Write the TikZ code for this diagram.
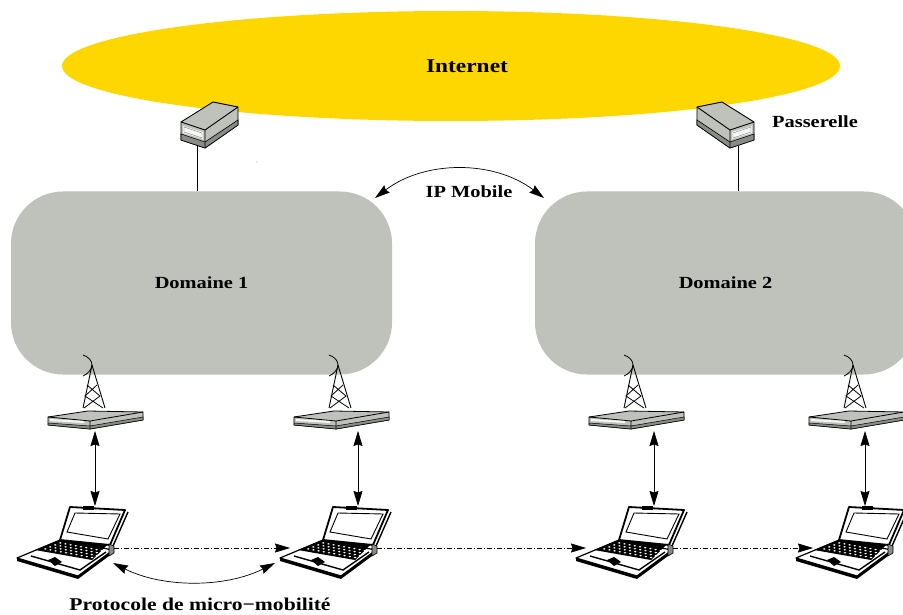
\documentclass[tikz,border=0pt]{standalone}
\usepackage{fontspec}
\setmainfont[FakeStretch=1.2]{Liberation Serif}
\usetikzlibrary{arrows.meta,positioning,shapes.geometric}
\definecolor{netyellow}{HTML}{FFD700}
\definecolor{domgray}{HTML}{BEC2BA}
\definecolor{boxdark}{HTML}{8A8C88}
\tikzset{%
   lbl/.style={
      font=\bfseries\fontsize{17}{19}\selectfont,
      inner sep=1pt
   },
   dombox/.style={
      rectangle,
      rounded corners=52pt,
      fill=domgray,
      minimum width=381pt,
      minimum height=183pt,
      lbl
   },
   netblob/.style={
      ellipse,
      fill=netyellow,
      minimum width=778pt,
      minimum height=110pt,
      lbl,
      font=\bfseries\fontsize{19.5}{21}\selectfont
   },
   onetip/.style={
      -{Stealth[length=15pt,width=9pt,inset=1.5pt]},
      line width=.7pt
   },
   bitip/.style={
      {Stealth[length=15pt,width=9pt,inset=1.5pt]}-{Stealth[length=15pt,width=9pt,inset=1.5pt]},
      line width=.7pt
   },
   radiolink/.style={
      onetip,
      dash pattern=on 5pt off 2pt on 1pt off 2pt
   },
   gateway/.pic={
      \filldraw[fill=domgray,line width=.9pt,line join=round] (-24,-8) -- (8,-28) -- (33,-23) -- (33,-5) -- (0,18) -- (-24,10) -- cycle;
      \filldraw[fill=boxdark,line width=.6pt] (-24,4) -- (0,12) -- (33,-10) -- (33,-5) -- (0,18) -- (-24,10) -- cycle;
      \draw[line width=.9pt] (-24,-8) -- (0,0) -- (33,-23) (0,0) -- (0,18);
      \fill[white!85!domgray] (-22,-4) -- (-2,2) -- (-2,9) -- (-22,3) -- cycle;
      \draw[gray,line width=.4pt] (-21,-3) -- (-3,3) -- (-3,8) -- (-21,2) -- cycle;
      \coordinate (-port) at (-8,16);
   },
   relay/.pic={
      % antenna
      \draw[line width=.8pt] (-7,-66) .. controls (-1,-64) and (2,-60) .. (2,-56) .. controls (2,-52) and (-2,-47) .. (-7,-45);
      \draw[line width=.9pt] (2,-56) -- (-7,-13) (2,-56) -- (15,-13);
      \draw[line width=.8pt] (-3,-36) -- (10,-25) -- (-6,-13) (7,-36) -- (-5,-25) -- (13,-13);
      % box
      \filldraw[fill=domgray,line width=.8pt,line join=round] (-42,-4) -- (-2,-10) -- (53,-9) -- (53,-1) -- (0,8) -- (-42,4) -- cycle;
      \filldraw[fill=boxdark,line width=.5pt] (-42,2) -- (0,5) -- (53,-4) -- (53,-1) -- (0,8) -- (-42,4) -- cycle;
      \draw[line width=.8pt] (-42,-4) -- (0,0) -- (53,-9) (0,0) -- (0,8);
      \fill[white!85!domgray] (-40,-2) -- (-6,0) -- (-6,2) -- (-40,0) -- cycle;
      \coordinate (-out) at (0,10);
   },
   laptop/.pic={
      % base
      \filldraw[fill=white,line width=1.2pt,line join=round] (-78,10) -- (-35,-8) -- (18,2) -- (-17,28) -- cycle;
      \fill (-78,10) -- (-17,28) -- (18,2) -- (18,5) -- (-17,31) -- (-78,13) -- cycle;
      % lid
      \filldraw[fill=white,line width=1.8pt,line join=round] (-35,-8) -- (-25,-41) -- (30,-38) -- (15,-3) -- cycle;
      \filldraw[fill=white,line width=.9pt] (-28,-16) -- (-20,-35) -- (25,-34) -- (13,-9) -- cycle;
      \draw[line width=1.4pt] (33,-36) -- (18,-2);
      \fill (-12,-42) rectangle (-1,-38);
      % keyboard
      \fill (-60,2) -- (-35,-8) -- (12,-3) -- (-3,12) -- cycle;
      \foreach \i in {1,...,10} {
         \foreach \j in {1,...,4} {
            \fill[white] ({-60+\i*5.2+\j*5},{2+\i*.95-\j*2}) ellipse (1.3pt and .8pt);
         }
      }
      % pads
      \fill (-47,12) -- (-40,9) -- (-33,14) -- (-40,18) -- cycle;
      \draw[line width=1.4pt] (-64,8) -- (-15,22) -- (11,4);
      % port
      \filldraw[fill=boxdark,line width=.6pt] (14,-4) -- (19,-2) -- (19,5) -- (14,8) -- cycle;
      \coordinate (-top) at (0,-42);
      \coordinate (-port) at (19,0);
      \coordinate (-in) at (-68,0);
      \coordinate (-rearl) at (18,15);
      \coordinate (-rearr) at (-83,15);
   },
}
\begin{document}
\begin{tikzpicture}[x=1pt,y=-1pt]
   \useasboundingbox (0,0) rectangle (903,615);
   \clip (0,0) rectangle (903,615);
   \node[netblob] (inet) at (451,66) {\hspace*{32pt}Internet};
   \node[dombox] (dom1) at (201.5,283) {Domaine 1};
   \node[dombox] (dom2) at (725.5,283) {Domaine 2};

   \pic (gw1) at (205,130) {gateway};
   \pic[xscale=-1] (gw2) at (730,130) {gateway};
   \node[lbl,right=33pt of gw2-port,yshift=24pt] (pass) {Passerelle};
   \draw[line width=.6pt] (gw1-port) -- (gw1-port |- dom1.north);
   \draw[line width=.6pt] (gw2-port) -- (gw2-port |- dom2.north);
   \fill (257,162) circle (.4pt);

   \coordinate (ipl) at (375,198);
   \coordinate (ipr) at (544,198);
   \draw[bitip] (ipl) .. controls +(50,-38) and +(-50,-38) .. (ipr);
   \node[lbl] (ipm) at (469,192) {IP Mobile};

   \foreach \n/\x in {1/90,2/336,3/631,4/851} {
      \pic (ap\n) at (\x,421) {relay};
   }
   \foreach \n/\x/\d in {1/95/0,2/358/0,3/654/0,4/874/-9} {
      \pic (pc\n) at (\x,548) {laptop};
      \draw[bitip] ([xshift=\d pt]pc\n-top |- ap\n-out) -- ([xshift=\d pt]pc\n-top);
   }
   \draw[radiolink] (pc1-port) -- (pc2-in);
   \draw[radiolink] (pc2-port) -- (pc3-in);
   \draw[radiolink] (pc3-port) -- ([xshift=7pt]pc4-in);
   \draw[bitip] (pc1-rearl) .. controls +(50,25) and +(-50,25) .. (pc2-rearr);
   \node[lbl,below=34pt of pc1-rearl,xshift=87pt,font=\bfseries\fontsize{18}{20}\selectfont] (proto) {Protocole de micro−mobilité};
\end{tikzpicture}
\end{document}
